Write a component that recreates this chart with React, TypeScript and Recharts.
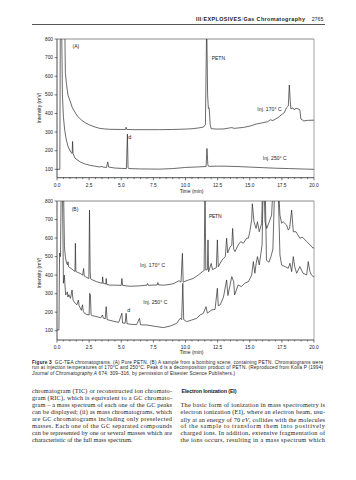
import React from 'react';
import { LineChart, Line, XAxis, YAxis, ReferenceLine } from 'recharts';

// ---------- data ----------
const timeTicks = [0, 0.5, 1, 1.5, 2, 2.5, 3, 3.5, 4, 4.5, 5, 5.5, 6, 6.5, 7, 7.5, 8, 8.5, 9, 9.5, 10, 10.5, 11, 11.5, 12, 12.5, 13, 13.5, 14, 14.5, 15, 15.5, 16, 16.5, 17, 17.5, 18, 18.5, 19, 19.5, 20];
const majorTimeTicks = [0, 2.5, 5, 7.5, 10, 12.5, 15, 17.5, 20];
const intensityTicks = [100, 200, 300, 400, 500, 600, 700, 800];

// Chart A, injection 170 °C (upper trace)
const tA170 = [0.5, 0.6, 0.65, 0.73, 0.85, 0.99, 1.2, 1.38, 1.6, 1.9, 2.2, 2.55, 3.0, 3.33, 3.7, 4.1, 5.0, 5.33, 5.38, 5.43, 6, 7, 8, 9, 10, 10.5, 11, 11.4, 11.55, 11.65, 11.72, 11.78, 11.84, 11.92, 12.0, 12.5, 13, 13.4, 13.6, 13.8, 14.5, 15, 15.5, 16, 16.4, 16.6, 16.8, 17.2, 17.5, 17.7, 17.85, 18.0, 18.08, 18.15, 18.2, 18.35, 18.45, 18.6, 18.75, 18.9, 18.98, 19.2, 19.5, 20];
const vA170 = [900, 900, 620, 562, 500, 472, 430, 409, 385, 365, 350, 338, 326, 320, 317, 315, 314, 314, 326, 314, 313, 313, 313, 314, 316, 318, 322, 327, 340, 900, 500, 427, 430, 340, 318, 316, 317, 322, 324, 320, 325, 332, 343, 350, 356, 366, 362, 378, 395, 405, 430, 440, 553, 470, 425, 430, 420, 428, 425, 420, 370, 360, 363, 364];

// Chart A, injection 250 °C (lower trace)
const tA250 = [0, 0.22, 0.26, 0.36, 0.42, 0.5, 0.6, 0.73, 0.85, 0.99, 1.1, 1.18, 1.21, 1.25, 1.4, 1.8, 2.2, 2.55, 3.0, 3.3, 3.5, 3.6, 3.85, 3.95, 4.02, 4.5, 5.0, 5.4, 5.48, 5.53, 5.6, 6.5, 8, 9, 10, 11, 11.6, 11.67, 11.74, 11.8, 12.5, 13, 14, 15, 16, 17, 18, 19, 20];
const vA250 = [100, 100, 900, 900, 500, 380, 310, 257, 225, 203, 190, 185, 250, 185, 160, 140, 128, 122, 116, 113, 115, 112, 110, 140, 112, 107, 105, 104, 289, 108, 104, 102, 101, 104, 110, 113, 115, 212, 125, 116, 117, 117, 115, 112, 109, 106, 104, 102, 100];

// Chart B, injection 170 °C (upper trace)
const tB170 = [0.3, 0.5, 0.58, 0.65, 0.75, 0.82, 0.86, 0.9, 1.1, 1.3, 1.4, 1.43, 1.47, 1.6, 1.81, 2.0, 2.07, 2.12, 2.3, 2.48, 2.53, 2.58, 2.62, 2.8, 3.1, 3.4, 3.52, 3.55, 3.6, 3.8, 3.83, 3.87, 4.1, 4.5, 5.0, 5.05, 5.1, 5.4, 5.7, 6.4, 7.0, 7.05, 7.1, 7.8, 7.85, 7.9, 8.3, 8.8, 9.1, 9.5, 9.65, 9.76, 9.82, 10.2, 10.6, 11.0, 11.3, 11.45, 11.52, 11.58, 11.7, 11.75, 11.8, 12.0, 12.1, 12.4, 12.48, 12.55, 12.7, 12.84, 12.95, 13.1, 13.2, 13.28, 13.47, 13.6, 13.67, 13.75, 13.85, 14.1, 14.3, 14.5, 14.76, 14.9, 15.02, 15.15, 15.2, 15.33, 15.49, 15.6, 15.74, 15.93, 16.0, 16.1, 16.19, 16.32, 16.52, 16.7, 16.83, 17.0, 17.22, 17.35, 17.48, 17.6, 17.87, 18.0, 18.1, 18.26, 18.39, 18.6, 18.9, 19.1, 19.43, 19.7, 19.94, 20];
const vB170 = [900, 900, 553, 499, 463, 455, 472, 445, 436, 425, 420, 572, 420, 415, 409, 400, 436, 395, 388, 382, 751, 418, 380, 373, 364, 358, 356, 391, 356, 352, 382, 350, 346, 346, 345, 382, 345, 342, 340, 342, 346, 355, 345, 347, 360, 347, 346, 350, 355, 370, 362, 518, 362, 373, 382, 401, 418, 425, 900, 427, 430, 590, 418, 463, 430, 440, 590, 445, 464, 481, 490, 500, 599, 520, 553, 560, 652, 540, 527, 563, 581, 572, 599, 600, 640, 700, 785, 688, 652, 688, 634, 680, 900, 900, 688, 652, 688, 724, 900, 900, 900, 724, 680, 688, 670, 643, 652, 751, 634, 634, 599, 605, 581, 563, 545, 550];

// Chart B, injection 250 °C (lower trace)
const tB250 = [0, 0.15, 0.2, 0.27, 0.33, 0.42, 0.5, 0.57, 0.67, 0.75, 0.8, 0.85, 0.92, 1.05, 1.17, 1.25, 1.4, 1.55, 1.66, 1.72, 1.9, 1.98, 2.05, 2.14, 2.3, 2.5, 2.54, 2.6, 2.65, 2.7, 3.1, 3.4, 3.54, 3.6, 3.75, 3.83, 3.9, 4.4, 4.8, 5.05, 5.1, 5.3, 5.38, 5.45, 5.7, 6.2, 6.42, 6.5, 7.0, 7.77, 8.28, 8.8, 9.32, 9.58, 9.7, 9.79, 9.86, 10.1, 10.49, 10.88, 11.13, 11.39, 11.6, 11.7, 12.04, 12.3, 12.48, 12.55, 12.69, 12.95, 13.2, 13.3, 13.47, 13.6, 13.75, 13.82, 14.1, 14.35, 14.6, 14.9, 15.15, 15.28, 15.4, 15.5, 15.6, 15.74, 15.87, 15.96, 16.05, 16.2, 16.3, 16.5, 16.65, 16.8, 16.95, 17.2, 17.35, 17.48, 17.75, 18.0, 18.13, 18.26, 18.39, 18.5, 18.65, 18.9, 19.15, 19.43, 19.55, 19.68, 19.8, 19.94, 20];
const vB250 = [104, 104, 519, 500, 900, 900, 356, 400, 293, 300, 310, 282, 295, 275, 320, 265, 250, 240, 265, 235, 210, 240, 205, 194, 188, 185, 302, 295, 185, 182, 176, 170, 185, 168, 165, 230, 160, 151, 145, 194, 142, 140, 194, 138, 135, 133, 167, 132, 131, 122, 117, 125, 140, 167, 160, 356, 160, 149, 158, 167, 185, 194, 230, 195, 212, 215, 329, 235, 239, 280, 374, 290, 347, 392, 365, 293, 347, 338, 356, 365, 401, 473, 410, 464, 500, 455, 518, 563, 900, 900, 480, 470, 500, 540, 900, 900, 509, 455, 446, 437, 464, 419, 500, 446, 410, 446, 410, 401, 473, 420, 401, 392, 392];

const zip = (ts: number[], vs: number[]) => {
  const n = Math.min(ts.length, vs.length);
  const out: { t: number; v: number }[] = [];
  for (let i = 0; i < n; i++) out.push({ t: ts[i], v: vs[i] });
  return out;
};

const SANS = "'Liberation Sans', Arial, sans-serif";
const SERIF = "'Liberation Serif', 'Times New Roman', serif";
const INK = '#222';
const TRACE = '#2b2b2b';

const XTick = (props: any) => {
  const { x, y, payload } = props;
  const v = payload.value as number;
  const major = majorTimeTicks.includes(v);
  return (
    <g>
      <line x1={x} x2={x} y1={y} y2={y + (major ? 2.6 : 1.4)} stroke={INK} strokeWidth={0.6} />
      {major && (
        <text x={x} y={y + 7.4} textAnchor="middle" dominantBaseline="central" fontSize={4.8} fontFamily={SANS} fill={INK}>
          {v.toFixed(1)}
        </text>
      )}
    </g>
  );
};

const YTick = (props: any) => {
  const { x, y, payload } = props;
  return (
    <g>
      <line x1={x - 2.4} x2={x} y1={y} y2={y} stroke={INK} strokeWidth={0.6} />
      <text x={x - 4} y={y} textAnchor="end" dominantBaseline="central" fontSize={4.8} fontFamily={SANS} fill={INK}>
        {payload.value}
      </text>
    </g>
  );
};

function Chromatogram({ top, yMin, xAxisHeight, hot, cool }: any) {
  return (
    <div style={{ position: 'absolute', left: 0, top }}>
      <LineChart width={356} height={200} margin={{ top: 39, right: 42, bottom: 0, left: 0 }}>
        <XAxis
          type="number"
          dataKey="t"
          domain={[0, 20]}
          ticks={timeTicks}
          allowDataOverflow
          interval={0}
          height={xAxisHeight}
          tickSize={0}
          tickMargin={0}
          tickLine={false}
          tick={<XTick />}
          axisLine={{ stroke: INK, strokeWidth: 0.8 }}
        />
        <YAxis
          type="number"
          domain={[yMin, 800]}
          ticks={intensityTicks}
          allowDataOverflow
          interval={0}
          width={57}
          tickSize={0}
          tickMargin={0}
          tickLine={false}
          tick={<YTick />}
          axisLine={{ stroke: INK, strokeWidth: 0.8 }}
        />
        <ReferenceLine y={800} stroke="#8a8a8a" strokeWidth={1} />
        <ReferenceLine x={20} stroke="#8a8a8a" strokeWidth={0.8} />
        <Line data={cool} dataKey="v" type="linear" dot={false} stroke={TRACE} strokeWidth={0.7} isAnimationActive={false} />
        <Line data={hot} dataKey="v" type="linear" dot={false} stroke={TRACE} strokeWidth={0.7} isAnimationActive={false} />
      </LineChart>
    </div>
  );
}

const T = ({ x, y, size = 4.8, family = SANS, weight, italic, anchor = 'start', len, children, rotate }: any) => (
  <text
    x={x}
    y={y}
    fontSize={size}
    fontFamily={family}
    fontWeight={weight}
    fontStyle={italic ? 'italic' : undefined}
    textAnchor={anchor}
    dominantBaseline="central"
    fill={INK}
    textLength={len}
    lengthAdjust={len ? 'spacing' : undefined}
    transform={rotate ? `rotate(-90 ${x} ${y})` : undefined}
  >
    {children}
  </text>
);

const leftBody = [
  'chromatogram (TIC) or reconstructed ion chromato-',
  'gram (RIC), which is equivalent to a GC chromato-',
  'gram – a mass spectrum of each one of the GC peaks',
  'can be displayed; (ii) as mass chromatograms, which',
  'are GC chromatograms including only preselected',
  'masses. Each one of the GC separated compounds',
  'can be represented by one or several masses which are',
  'characteristic of the full mass spectrum.',
];

export default function App() {
  const bodyY = (i: number) => 390.7 + i * 7;
  return (
    <div style={{ position: 'absolute', left: 0, top: 0, width: 356, height: 480, background: '#fff', overflow: 'hidden' }}>
      <Chromatogram top={0} yMin={55} xAxisHeight={22.3} hot={zip(tA170, vA170)} cool={zip(tA250, vA250)} />
      <Chromatogram top={162} yMin={50} xAxisHeight={22} hot={zip(tB170, vB170)} cool={zip(tB250, vB250)} />
      <svg width={356} height={480} style={{ position: 'absolute', left: 0, top: 0, pointerEvents: 'none' }}>
        {/* running header */}
        <text x={196} y={19} fontSize={5.4} fontFamily={SANS} dominantBaseline="central" fill={INK} textLength={109} lengthAdjust="spacing">
          <tspan fontWeight="bold">III</tspan>
          <tspan fill="#777">/</tspan>
          <tspan fontWeight="bold">EXPLOSIVES</tspan>
          <tspan fill="#777">/</tspan>
          <tspan fontWeight="bold">Gas Chromatography</tspan>
        </text>
        <T x={311.7} y={19} size={5.2} len={11.6}>2765</T>
        <line x1={32} x2={325} y1={24.5} y2={24.5} stroke="#555" strokeWidth={1} />

        {/* chart A annotations */}
        <T x={72.5} y={46} size={5}>(A)</T>
        <T x={211.7} y={58.3} size={5} len={13.3}>PETN</T>
        <T x={257.3} y={109} size={5} len={24.4}>Inj. 170° C</T>
        <T x={262.7} y={158.3} size={5} len={24}>Inj. 250° C</T>
        <T x={128.3} y={136.7} size={5.4}>d</T>
        <T x={191.5} y={191} size={5} anchor="middle">Time (min)</T>
        <T x={39} y={108} size={5} anchor="middle" rotate>Intensity (mV)</T>

        {/* chart B annotations */}
        <T x={71.7} y={209} size={5}>(B)</T>
        <T x={209} y={215.7} size={5} len={12.5}>PETN</T>
        <T x={140} y={265} size={5} len={25}>Inj. 170° C</T>
        <T x={143.3} y={302.3} size={5} len={24}>Inj. 250° C</T>
        <T x={127.3} y={310} size={5.4}>d</T>
        <T x={191.5} y={352} size={5} anchor="middle">Time (min)</T>
        <T x={39} y={273} size={5} anchor="middle" rotate>Intensity (mV)</T>

        {/* caption */}
        <text x={32} y={362.3} fontSize={4.7} fontFamily={SANS} dominantBaseline="central" fill={INK} textLength={291} lengthAdjust="spacing">
          <tspan fontWeight="bold">Figure 3</tspan>
          <tspan dx={3}>GC-TEA chromatograms. (A) Pure PETN. (B) A sample from a bombing scene, containing PETN. Chromatograms were</tspan>
        </text>
        <T x={32} y={367.5} size={4.7} len={291}>run at injection temperatures of 170°C and 250°C. Peak d is a decomposition product of PETN. (Reproduced from Kolla P (1994)</T>
        <text x={32} y={372.7} fontSize={4.7} fontFamily={SANS} dominantBaseline="central" fill={INK} textLength={203} lengthAdjust="spacing">
          <tspan fontStyle="italic">Journal of Chromatography A</tspan>
          <tspan> 674: 309–316, by permission of Elsevier Science Publishers.)</tspan>
        </text>

        {/* body text, left column */}
        {leftBody.map((line, i) => (
          <T key={i} x={32} y={bodyY(i)} size={6.3} family={SERIF} len={i < leftBody.length - 1 ? 140 : undefined}>
            {line}
          </T>
        ))}

        {/* body text, right column */}
        <T x={181.5} y={bodyY(0)} size={5.4} weight="bold" len={55}>Electron Ionization (EI)</T>
        <T x={180.5} y={bodyY(2)} size={6.3} family={SERIF} len={144.5}>The basic form of ionization in mass spectrometry is</T>
        <T x={180.5} y={bodyY(3)} size={6.3} family={SERIF} len={144.5}>electron ionization (EI), where an electron beam, usu-</T>
        <text x={180.5} y={bodyY(4)} fontSize={6.3} fontFamily={SERIF} dominantBaseline="central" fill={INK} textLength={144.5} lengthAdjust="spacing">
          <tspan>ally at an energy of 70 </tspan>
          <tspan fontStyle="italic">eV</tspan>
          <tspan>, collides with the molecules</tspan>
        </text>
        <T x={180.5} y={bodyY(5)} size={6.3} family={SERIF} len={144.5}>of the sample to transform them into positively</T>
        <T x={180.5} y={bodyY(6)} size={6.3} family={SERIF} len={144.5}>charged ions. In addition, extensive fragmentation of</T>
        <T x={180.5} y={bodyY(7)} size={6.3} family={SERIF} len={144.5}>the ions occurs, resulting in a mass spectrum which</T>
      </svg>
    </div>
  );
}
